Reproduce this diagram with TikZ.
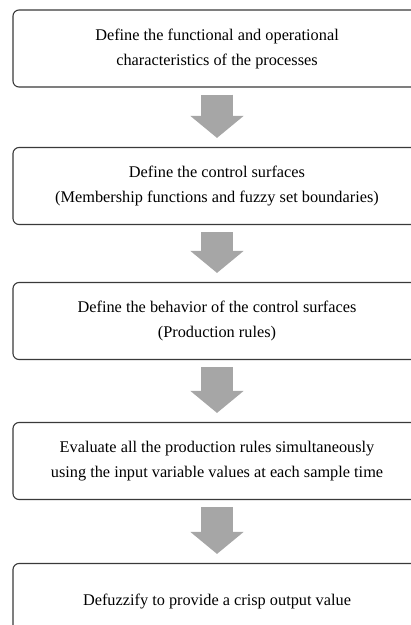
\documentclass[tikz,border=0pt]{standalone}
\usepackage{fontspec}
\setmainfont{Liberation Serif}
\usetikzlibrary{arrows.meta,calc}
\definecolor{boxline}{HTML}{3A3A3A}
\definecolor{arrowgray}{HTML}{A6A6A6}
\tikzset{
  stepbox/.style={draw=boxline, line width=1.1pt, rounded corners=6pt, fill=white,
    minimum width=408pt, minimum height=77pt, align=center, inner sep=0pt,
    font=\fontsize{16.3}{25}\selectfont},
  blockarrow/.style={draw=arrowgray, line width=32pt,
    -{Triangle[width=52pt,length=22pt]}}
}
\begin{document}
\begin{tikzpicture}[x=1pt,y=1pt]
\useasboundingbox (0,0) rectangle (411,-625);
\node[stepbox] (b1) at (217,-48.5) {Define the functional and operational\\characteristics of the processes};
\node[stepbox] (b2) at (217,-186) {Define the control surfaces\\(Membership functions and fuzzy set boundaries)};
\node[stepbox] (b3) at (217,-321) {Define the behavior of the control surfaces\\(Production rules)};
\node[stepbox] (b4) at (217,-461) {Evaluate all the production rules simultaneously\\using the input variable values at each sample time};
\node[stepbox] (b5) at (217,-602) {Defuzzify to provide a crisp output value};
\draw[blockarrow] ([yshift=-7pt]b1.south) -- ([yshift=9pt]b2.north);
\draw[blockarrow] ([yshift=-7pt]b2.south) -- ([yshift=9pt]b3.north);
\draw[blockarrow] ([yshift=-7pt]b3.south) -- ([yshift=9pt]b4.north);
\draw[blockarrow] ([yshift=-7pt]b4.south) -- ([yshift=9pt]b5.north);
\end{tikzpicture}
\end{document}
